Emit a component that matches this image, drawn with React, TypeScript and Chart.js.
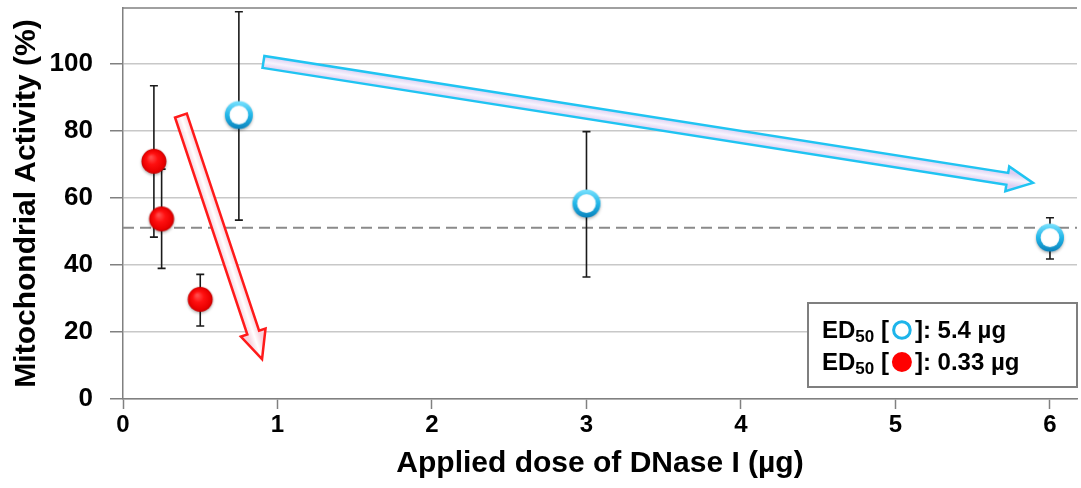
import React, { useEffect, useRef } from 'react';
import { Chart, registerables } from 'chart.js';

Chart.register(...registerables);

// ---- data ----
const blueDose = [0.75, 3, 6];
const blueActivity = [84.6, 58.2, 48];
const blueUpper = [115.6, 79.8, 54.1];
const blueLower = [53.4, 36.4, 41.8];

const redDose = [0.2, 0.25, 0.5];
const redActivity = [70.8, 53.6, 29.6];
const redUpper = [93.5, 68.6, 37.2];
const redLower = [48.3, 39, 21.8];

const ed50Level = 51.1;

const yTicks = [0, 20, 40, 60, 80, 100];
const xTicks = [0, 1, 2, 3, 4, 5, 6];

// arrow annotations in data units: [start, tip]
const redArrow = [[0.375, 84.6], [0.9, 11.9]];
const blueArrow = [[0.909, 100.6], [5.89, 64.5]];

const legendValues = ['5.4 µg', '0.33 µg'];
const xTitle = 'Applied dose of DNase I (µg)';
const yTitle = 'Mitochondrial Activity (%)';

const FONT = '"Liberation Sans", Arial, Helvetica, sans-serif';

function makeRedMarker(): HTMLCanvasElement {
  const c = document.createElement('canvas');
  c.width = 32; c.height = 32;
  const ctx = c.getContext('2d')!;
  const cx = 16, cy = 15.5, r = 12.5;
  ctx.save();
  ctx.shadowColor = 'rgba(0,0,0,0.3)';
  ctx.shadowBlur = 3;
  ctx.shadowOffsetY = 1.5;
  const g = ctx.createRadialGradient(cx - 3, cy - 4, 1, cx, cy, r);
  g.addColorStop(0, '#ff4a4a');
  g.addColorStop(0.4, '#ff1010');
  g.addColorStop(0.85, '#ea0000');
  g.addColorStop(1, '#c00000');
  ctx.fillStyle = g;
  ctx.beginPath();
  ctx.arc(cx, cy, r, 0, Math.PI * 2);
  ctx.fill();
  ctx.restore();
  return c;
}

function makeBlueMarker(): HTMLCanvasElement {
  const c = document.createElement('canvas');
  c.width = 36; c.height = 36;
  const ctx = c.getContext('2d')!;
  const cx = 18, cy = 17.5, r = 14;
  ctx.save();
  ctx.shadowColor = 'rgba(0,0,0,0.3)';
  ctx.shadowBlur = 3;
  ctx.shadowOffsetY = 1.5;
  const g = ctx.createLinearGradient(0, cy - r, 0, cy + r);
  g.addColorStop(0, '#7ae2ff');
  g.addColorStop(0.5, '#22b6e8');
  g.addColorStop(1, '#0a82bc');
  ctx.fillStyle = g;
  ctx.beginPath();
  ctx.arc(cx, cy, r, 0, Math.PI * 2);
  ctx.fill();
  ctx.restore();
  const w = ctx.createRadialGradient(cx, cy - 2, 2, cx, cy, 9.4);
  w.addColorStop(0, '#ffffff');
  w.addColorStop(0.8, '#ffffff');
  w.addColorStop(1, '#e4f2f8');
  ctx.fillStyle = w;
  ctx.beginPath();
  ctx.arc(cx, cy, 9.4, 0, Math.PI * 2);
  ctx.fill();
  return c;
}

function drawArrow(
  ctx: CanvasRenderingContext2D,
  x0: number, y0: number, x1: number, y1: number,
  shaftHalf: number, headHalf: number, headLen: number,
  stroke: string, edge: string, center: string
) {
  const dx = x1 - x0, dy = y1 - y0;
  const len = Math.hypot(dx, dy);
  const ux = dx / len, uy = dy / len;
  const nx = -uy, ny = ux;
  const bx = x1 - ux * headLen, by = y1 - uy * headLen;
  const pts = [
    [x0 + nx * shaftHalf, y0 + ny * shaftHalf],
    [bx + nx * shaftHalf, by + ny * shaftHalf],
    [bx + nx * headHalf, by + ny * headHalf],
    [x1, y1],
    [bx - nx * headHalf, by - ny * headHalf],
    [bx - nx * shaftHalf, by - ny * shaftHalf],
    [x0 - nx * shaftHalf, y0 - ny * shaftHalf],
  ];
  ctx.save();
  ctx.beginPath();
  pts.forEach((p, i) => (i === 0 ? ctx.moveTo(p[0], p[1]) : ctx.lineTo(p[0], p[1])));
  ctx.closePath();
  const mx = (x0 + x1) / 2, my = (y0 + y1) / 2;
  const g = ctx.createLinearGradient(mx + nx * shaftHalf, my + ny * shaftHalf, mx - nx * shaftHalf, my - ny * shaftHalf);
  g.addColorStop(0, edge);
  g.addColorStop(0.5, center);
  g.addColorStop(1, edge);
  ctx.fillStyle = g;
  ctx.fill();
  ctx.lineJoin = 'miter';
  ctx.strokeStyle = stroke;
  ctx.lineWidth = 2.5;
  ctx.stroke();
  ctx.restore();
}

const overlayPlugin = {
  id: 'overlay',
  beforeDatasetsDraw(chart: any) {
    const { ctx, chartArea: ca, scales } = chart;
    const xs = scales.x, ys = scales.y;
    ctx.save();
    ctx.strokeStyle = '#808080';
    ctx.lineWidth = 1.5;
    ctx.beginPath();
    ctx.moveTo(ca.left, ca.top);
    ctx.lineTo(ca.right, ca.top);
    ctx.stroke();
    const yl = ys.getPixelForValue(ed50Level);
    ctx.strokeStyle = '#8a8a8a';
    ctx.lineWidth = 2;
    ctx.setLineDash([11, 6]);
    ctx.beginPath();
    ctx.moveTo(ca.left, yl);
    ctx.lineTo(ca.right, yl);
    ctx.stroke();
    ctx.setLineDash([]);
    const bars = (xsArr: number[], lo: number[], hi: number[]) => {
      xsArr.forEach((x, i) => {
        const px = xs.getPixelForValue(x);
        const pt = ys.getPixelForValue(hi[i]);
        const pb = ys.getPixelForValue(lo[i]);
        ctx.strokeStyle = '#1a1a1a';
        ctx.lineWidth = 1.6;
        ctx.beginPath();
        ctx.moveTo(px, pt); ctx.lineTo(px, pb);
        ctx.moveTo(px - 4, pt); ctx.lineTo(px + 4, pt);
        ctx.moveTo(px - 4, pb); ctx.lineTo(px + 4, pb);
        ctx.stroke();
      });
    };
    bars(redDose, redLower, redUpper);
    bars(blueDose, blueLower, blueUpper);
    ctx.restore();
  },
  afterDatasetsDraw(chart: any) {
    const { ctx, scales, chartArea: ca } = chart;
    const xs = scales.x, ys = scales.y;
    const P = (p: number[]) => [xs.getPixelForValue(p[0]), ys.getPixelForValue(p[1])];
    const [r0, r1] = [P(redArrow[0]), P(redArrow[1])];
    drawArrow(ctx, r0[0], r0[1], r1[0], r1[1], 6.2, 13, 28, '#ff1a1a', '#f6d4de', '#ffffff');
    const [b0, b1] = [P(blueArrow[0]), P(blueArrow[1])];
    drawArrow(ctx, b0[0], b0[1], b1[0], b1[1], 6, 12.5, 26, '#20c4f2', '#dccff2', '#f7f3fd');

    // ED50 legend box (inside plot area)
    ctx.save();
    const bw = 269, bh = 84;
    const bx = ca.right - bw, by = ca.bottom - 96;
    ctx.fillStyle = '#ffffff';
    ctx.fillRect(bx, by, bw, bh);
    ctx.strokeStyle = '#7f7f7f';
    ctx.lineWidth = 2;
    ctx.strokeRect(bx, by, bw, bh);
    ctx.textAlign = 'left';
    ctx.textBaseline = 'alphabetic';
    const rows = [by + 35, by + 67];
    rows.forEach((yb, i) => {
      let tx = bx + 14;
      ctx.fillStyle = '#000';
      ctx.font = `bold 24px ${FONT}`;
      ctx.fillText('ED', tx, yb);
      tx += ctx.measureText('ED').width;
      ctx.font = `bold 17px ${FONT}`;
      ctx.fillText('50', tx, yb + 4);
      tx += ctx.measureText('50').width;
      ctx.font = `bold 24px ${FONT}`;
      ctx.fillText(' [', tx, yb);
      tx += ctx.measureText(' [').width;
      const ccx = tx + 13, ccy = yb - 8;
      if (i === 0) {
        ctx.strokeStyle = '#1db4ea';
        ctx.lineWidth = 3;
        ctx.beginPath();
        ctx.arc(ccx, ccy, 8.3, 0, Math.PI * 2);
        ctx.stroke();
      } else {
        ctx.fillStyle = '#ff0000';
        ctx.beginPath();
        ctx.arc(ccx, ccy, 10, 0, Math.PI * 2);
        ctx.fill();
      }
      tx += 26;
      ctx.fillStyle = '#000';
      ctx.fillText(']: ' + legendValues[i], tx, yb);
    });
    ctx.restore();
  },
};

export default function App() {
  const ref = useRef<HTMLCanvasElement>(null);
  useEffect(() => {
    document.body.style.margin = '0';
    const canvas = ref.current!;
    const redImg = makeRedMarker();
    const blueImg = makeBlueMarker();
    const chart = new Chart(canvas, {
      type: 'scatter',
      data: {
        datasets: [
          {
            label: 'open',
            data: blueDose.map((x, i) => ({ x, y: blueActivity[i] })),
            pointStyle: blueImg as any,
            pointRadius: 14,
            pointHoverRadius: 14,
          },
          {
            label: 'filled',
            data: redDose.map((x, i) => ({ x, y: redActivity[i] })),
            pointStyle: redImg as any,
            pointRadius: 12.5,
            pointHoverRadius: 12.5,
          },
        ],
      },
      options: {
        responsive: false,
        animation: false,
        layout: { autoPadding: false, padding: { top: 8, right: 4, left: 0, bottom: 0 } },
        plugins: { legend: { display: false }, tooltip: { enabled: false } },
        scales: {
          x: {
            type: 'linear',
            min: 0,
            max: 6.175,
            afterBuildTicks: (s: any) => { s.ticks = xTicks.map((v) => ({ value: v })); },
            afterFit: (s: any) => { s.height = 89; },
            grid: { drawOnChartArea: false, drawTicks: true, tickLength: 10, tickColor: '#808080', tickWidth: 1.5 } as any,
            border: { color: '#808080', width: 1.5 },
            ticks: { color: '#000', padding: 2, font: { family: FONT, size: 24, weight: 'bold' } },
            title: {
              display: true,
              text: xTitle,
              color: '#000',
              font: { family: FONT, size: 30, weight: 'bold', lineHeight: 1.2 },
              padding: { top: 0, bottom: 6 },
            },
          },
          y: {
            type: 'linear',
            min: 0,
            max: 116.7,
            afterBuildTicks: (s: any) => { s.ticks = yTicks.map((v) => ({ value: v })); },
            afterFit: (s: any) => { s.width = 123; s.paddingTop = 0; s.paddingBottom = 0; },
            grid: { color: '#c8c8c8', lineWidth: 1.5, drawTicks: true, tickLength: 13, tickColor: '#808080', tickWidth: 1.5 } as any,
            border: { color: '#808080', width: 1.5 },
            ticks: { color: '#000', padding: 17, font: { family: FONT, size: 26, weight: 'bold' } },
            title: {
              display: true,
              text: yTitle,
              color: '#000',
              font: { family: FONT, size: 30, weight: 'bold', lineHeight: 1.2 },
              padding: { top: 9, bottom: 0 },
            },
          },
        },
      },
      plugins: [overlayPlugin],
    });
    return () => chart.destroy();
  }, []);
  return (
    <canvas
      ref={ref}
      width={1081}
      height={488}
      style={{ display: 'block', width: 1081, height: 488 }}
    />
  );
}
